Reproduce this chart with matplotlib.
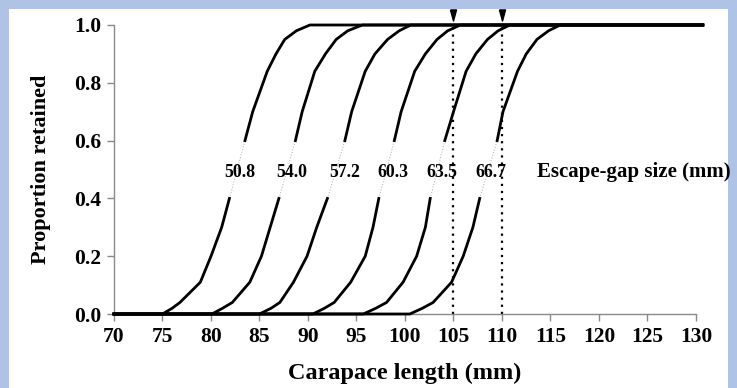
import matplotlib
matplotlib.use("Agg")
import matplotlib.pyplot as plt
import numpy as np
from matplotlib.patches import Rectangle

# escape-gap sizes (mm), one curve each
gap_sizes = ["50.8", "54.0", "57.2", "60.3", "63.5", "66.7"]

# proportion retained levels shared by every curve
levels = [0.0, 0.0, 0.02, 0.04, 0.11, 0.20, 0.30, 0.40, 0.60, 0.70, 0.84, 0.90, 0.95, 0.98, 1.0, 1.0]

# carapace length (mm) where each curve reaches the level above
curve_x = [
    [70.0, 75.0, 76.0, 76.8, 78.9, 80.0, 81.1, 81.9, 83.5, 84.3, 85.8, 86.7, 87.6, 88.8, 90.2, 130.7],
    [70.0, 80.1, 81.2, 82.2, 84.0, 85.2, 86.1, 87.0, 88.7, 89.4, 90.7, 91.8, 92.9, 94.1, 95.6, 130.7],
    [70.0, 85.0, 86.2, 87.1, 88.5, 89.9, 90.9, 92.0, 93.8, 94.5, 95.9, 96.9, 98.2, 99.4, 100.6, 130.7],
    [70.0, 90.5, 91.7, 92.7, 94.4, 95.9, 96.7, 97.3, 98.9, 99.6, 101.0, 102.1, 103.3, 104.4, 105.7, 130.7],
    [70.0, 95.7, 97.0, 98.1, 99.8, 101.2, 102.1, 102.6, 104.1, 105.0, 106.3, 107.3, 108.5, 109.6, 110.8, 130.7],
    [70.0, 100.5, 101.8, 102.9, 104.8, 106.0, 107.0, 107.7, 109.5, 110.1, 111.6, 112.5, 113.6, 114.8, 116.0, 130.7],
]

# where the gap-size labels sit
label_x = [83.0, 88.35, 93.8, 98.8, 103.8, 108.8]
label_y = 0.49

# reference lengths marked with arrows
marked_lengths = [105, 110]

x_ticks = list(range(70, 131, 5))
y_ticks = [0.0, 0.2, 0.4, 0.6, 0.8, 1.0]

plt.rcParams['font.family'] = ['Liberation Serif', 'DejaVu Serif']
plt.rcParams['font.weight'] = 'bold'

fig = plt.figure(figsize=(7.37, 3.88), dpi=100)
fig.patch.set_facecolor('#aec3e6')
# white panel inside the blue frame
fig.patches.append(Rectangle((9 / 737, 0), 719 / 737, 379 / 388, transform=fig.transFigure,
                             facecolor='white', edgecolor='none', zorder=-5))

ax = fig.add_axes([114 / 737, 74 / 388, 582 / 737, 289 / 388])
ax.set_facecolor('none')

lv = np.array(levels)
for xs in curve_x:
    xs = np.array(xs)
    low = lv <= 0.40
    high = lv >= 0.60
    ax.plot(xs[low], lv[low], color='black', lw=2.0, clip_on=False, zorder=3)
    ax.plot(xs[high], lv[high], color='black', lw=2.0, clip_on=False, zorder=3)
    mid = (lv >= 0.40) & (lv <= 0.60)
    ax.plot(xs[mid], lv[mid], color='#bbbbbb', lw=0.8, ls=(0, (1, 1.5)), zorder=2)

for txt, lx in zip(gap_sizes, label_x):
    ax.text(lx, label_y, txt, ha='center', va='center', fontsize=12.8, fontweight='bold', zorder=4)
ax.text(113.6, label_y, 'Escape-gap size (mm)', ha='left', va='center', fontsize=15,
        fontweight='bold', clip_on=False)

# narrow downward arrowhead
arrow = [(-3, 5.5), (3, 5.5), (0, -5.5), (-3, 5.5)]
for m in marked_lengths:
    ax.plot([m, m], [0, 1.0], color='black', lw=1.6, ls=(0, (1, 2.2)), zorder=2)
    ax.plot([m], [1.036], marker=arrow, color='black', markersize=8, clip_on=False)

ax.set_xlim(70, 130)
ax.set_ylim(0, 1.0)
ax.set_xticks(x_ticks)
ax.set_yticks(y_ticks)
ax.set_yticklabels([f"{v:.1f}" for v in y_ticks])
for s in ['top', 'right']:
    ax.spines[s].set_visible(False)
for s in ['left', 'bottom']:
    ax.spines[s].set_color('#8a8a8a')
    ax.spines[s].set_linewidth(1.0)
ax.tick_params(axis='both', direction='out', length=5, width=1.0, color='#8a8a8a',
               labelsize=15.5, pad=4)
for lab in ax.get_xticklabels() + ax.get_yticklabels():
    lab.set_fontweight('bold')

ax.set_xlabel('Carapace length (mm)', fontsize=17.5, fontweight='bold', labelpad=12)
ax.set_ylabel('Proportion retained', fontsize=16, fontweight='bold', labelpad=17)

fig.savefig('out.png', dpi=100)
